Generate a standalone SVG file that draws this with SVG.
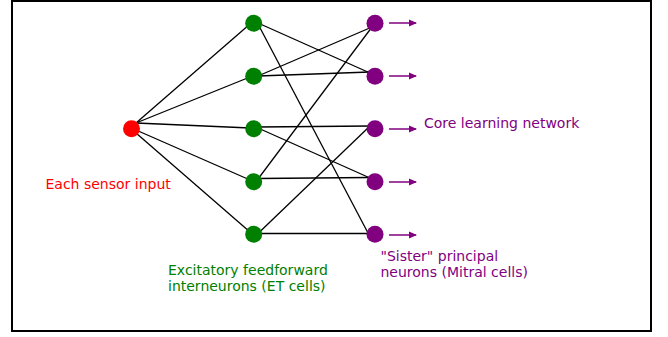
<svg xmlns="http://www.w3.org/2000/svg" width="668" height="337" viewBox="0 0 668 337">
<defs>
<style>
.frame{fill:#fff;stroke:#000;stroke-width:2}
.edge{stroke:#000;stroke-width:1.3;fill:none}
.out{stroke:#800080;stroke-width:1.5;fill:none;marker-end:url(#ah)}
.red{fill:#ff0000}
.grn{fill:#008000}
.pur{fill:#800080}
text{font-family:"DejaVu Sans",Verdana,sans-serif;font-size:14px}
</style>
<marker id="ah" markerWidth="8" markerHeight="8" refX="7" refY="4" orient="auto" markerUnits="userSpaceOnUse">
<path d="M0,0.5 L8,4 L0,7.5 Z" fill="#800080"/>
</marker>
</defs>
<rect class="frame" x="12" y="1" width="639" height="330"/>
<g id="connectors">
<line class="edge" x1="136" y1="123" x2="250" y2="24"/>
<line class="edge" x1="136" y1="123" x2="250" y2="77"/>
<line class="edge" x1="136" y1="123" x2="250" y2="128"/>
<line class="edge" x1="136" y1="130" x2="250" y2="180"/>
<line class="edge" x1="136" y1="133" x2="250" y2="232"/>
<line class="edge" x1="258" y1="23" x2="370" y2="73"/>
<line class="edge" x1="258" y1="24" x2="368" y2="233"/>
<line class="edge" x1="258" y1="76" x2="372" y2="27"/>
<line class="edge" x1="258" y1="76" x2="370" y2="72"/>
<line class="edge" x1="258" y1="127" x2="370" y2="126"/>
<line class="edge" x1="258" y1="128" x2="370" y2="178"/>
<line class="edge" x1="258" y1="179" x2="372" y2="27"/>
<line class="edge" x1="258" y1="178.5" x2="370" y2="177.5"/>
<line class="edge" x1="258" y1="233.5" x2="370" y2="126"/>
<line class="edge" x1="258" y1="233.5" x2="370" y2="233.5"/>
<line class="out" x1="389" y1="23" x2="416" y2="23"/>
<line class="out" x1="389" y1="76" x2="416" y2="76"/>
<line class="out" x1="389" y1="129" x2="416" y2="129"/>
<line class="out" x1="389" y1="182" x2="416" y2="182"/>
<line class="out" x1="389" y1="235" x2="416" y2="235"/>
</g>
<g id="sensor"><circle class="red" cx="131.5" cy="128.7" r="8.5"/></g>
<g id="et1"><circle class="grn" cx="253.7" cy="23.3" r="8.5"/></g>
<g id="et2"><circle class="grn" cx="253.7" cy="76.3" r="8.5"/></g>
<g id="et3"><circle class="grn" cx="253.7" cy="128.7" r="8.5"/></g>
<g id="et4"><circle class="grn" cx="253.7" cy="181.7" r="8.5"/></g>
<g id="et5"><circle class="grn" cx="253.7" cy="234.3" r="8.5"/></g>
<g id="m1"><circle class="pur" cx="375" cy="23.3" r="8.5"/></g>
<g id="m2"><circle class="pur" cx="375" cy="76.3" r="8.5"/></g>
<g id="m3"><circle class="pur" cx="375" cy="128.7" r="8.5"/></g>
<g id="m4"><circle class="pur" cx="375" cy="181.7" r="8.5"/></g>
<g id="m5"><circle class="pur" cx="375" cy="234.3" r="8.5"/></g>
<g id="labels">
<text x="45.5" y="189" fill="#ff0000">Each sensor input</text>
<text x="424" y="127.5" fill="#800080">Core learning network</text>
<text x="168" y="274.5" fill="#008000">Excitatory feedforward</text>
<text x="168" y="290.5" fill="#008000">interneurons (ET cells)</text>
<text x="380.5" y="261" fill="#800080">"Sister" principal</text>
<text x="380.5" y="276.5" fill="#800080">neurons (Mitral cells)</text>
</g>
</svg>
